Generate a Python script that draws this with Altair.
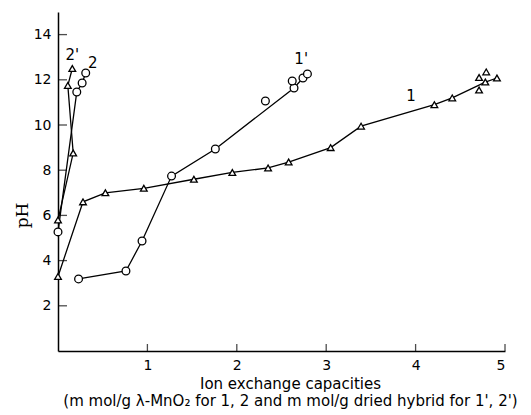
import altair as alt
import pandas as pd

# ---- data ----
s1_x = [0.0, 0.28, 0.53, 0.96, 1.52, 1.95, 2.35, 2.58, 3.05, 3.39, 4.21, 4.41, 4.78, 4.91]
s1_y = [3.3, 6.6, 7.0, 7.2, 7.6, 7.9, 8.1, 8.36, 9.0, 9.95, 10.9, 11.2, 11.9, 12.08]
s1_extra_x = [4.71, 4.71, 4.79]
s1_extra_y = [11.55, 12.1, 12.35]

s1p_x = [0.23, 0.76, 0.94, 1.27, 1.76, 2.64, 2.74, 2.79]
s1p_y = [3.19, 3.54, 4.87, 7.74, 8.94, 11.64, 12.08, 12.26]
s1p_extra_x = [2.62, 2.32]
s1p_extra_y = [11.95, 11.06]

s2_x = [0.0, 0.21, 0.27, 0.31]
s2_y = [5.27, 11.46, 11.86, 12.3]

s2p_x = [0.0, 0.17, 0.11, 0.16]
s2p_y = [5.8, 8.76, 11.75, 12.5]

label_text = ["1", "1'", "2", "2'"]
label_x = [3.95, 2.72, 0.39, 0.16]
label_y = [11.3, 12.9, 12.75, 13.1]

y_ticks = [2, 4, 6, 8, 10, 12, 14]
x_ticks = [1, 2, 3, 4, 5]

# ---- tables ----
rows = []
def add(name, xs, ys, shape, online):
    for i, (a, b) in enumerate(zip(xs, ys)):
        rows.append(dict(series=name, x=a, y=b, shape=shape, order=i, online=online))

add("1", s1_x, s1_y, "triangle-up", True)
add("1", s1_extra_x, s1_extra_y, "triangle-up", False)
add("1'", s1p_x, s1p_y, "circle", True)
add("1'", s1p_extra_x, s1p_extra_y, "circle", False)
add("2", s2_x, s2_y, "circle", True)
add("2'", s2p_x, s2p_y, "triangle-up", True)
df = pd.DataFrame(rows)
lines_df = df[df.online]
lab_df = pd.DataFrame(dict(t=label_text, x=label_x, y=label_y))
yt_df = pd.DataFrame(dict(v=y_ticks))
xt_df = pd.DataFrame(dict(v=x_ticks))

W, H = 447, 339
xs = alt.Scale(domain=[0, 5], nice=False)
ys = alt.Scale(domain=[0, 15], nice=False)

FONT = "DejaVu Sans"

x_axis = alt.Axis(values=x_ticks, format="d", ticks=False, grid=False, domainColor="black", domainWidth=1.5,
                  labelFont=FONT, labelFontSize=14, labelColor="black", labelPadding=7,
                  title=["Ion exchange capacities",
                         "(m mol/g λ-MnO₂ for 1, 2 and m mol/g dried hybrid for 1', 2')"],
                  titleFont=FONT, titleFontSize=15, titleFontWeight="normal", titleColor="black",
                  titleX=232, titleY=25, titleBaseline="top", titleLineHeight=17)
y_axis = alt.Axis(values=y_ticks, format="d", ticks=False, grid=False, domainColor="black", domainWidth=1.5,
                  labelFont=FONT, labelFontSize=14, labelColor="black", labelPadding=7,
                  title="pH", titleFont="DejaVu Serif", titleFontSize=17, titleFontWeight="normal",
                  titleColor="black", titleAngle=-90, titleX=-36, titleY=203,
                  titleAlign="center", titleBaseline="middle")

base = alt.Chart(lines_df)
lines = base.mark_line(color="black", strokeWidth=1.3).encode(
    x=alt.X("x:Q", scale=xs, axis=x_axis),
    y=alt.Y("y:Q", scale=ys, axis=y_axis),
    detail="series:N",
    order="order:Q",
)

points = alt.Chart(df).mark_point(filled=True, fill="white", stroke="black", strokeWidth=1.3, opacity=1).encode(
    x=alt.X("x:Q", scale=xs),
    y=alt.Y("y:Q", scale=ys),
    shape=alt.Shape("shape:N", scale=None),
    size=alt.condition(alt.datum.shape == "circle", alt.value(60), alt.value(45)),
)

labels = alt.Chart(lab_df).mark_text(font=FONT, fontSize=15, color="black", align="center", baseline="middle").encode(
    x=alt.X("x:Q", scale=xs),
    y=alt.Y("y:Q", scale=ys),
    text="t:N",
)

ytick_marks = alt.Chart(yt_df).mark_tick(color="black", thickness=1.3, size=9, orient="horizontal").encode(
    y=alt.Y("v:Q", scale=ys),
    x=alt.value(4.5),
)
xtick_marks = alt.Chart(xt_df).mark_tick(color="black", thickness=1.3, size=7, orient="vertical").encode(
    x=alt.X("v:Q", scale=xs),
    y=alt.value(H - 3.5),
)

chart = alt.layer(lines, ytick_marks, xtick_marks, points, labels).properties(
    width=W, height=H,
    autosize=alt.AutoSizeParams(type="none"),
    padding={"left": 58, "top": 12, "right": 26, "bottom": 64},
    background="white",
).configure_view(stroke=None)

chart.save("out.html", embed_options={"renderer": "svg", "actions": False})
